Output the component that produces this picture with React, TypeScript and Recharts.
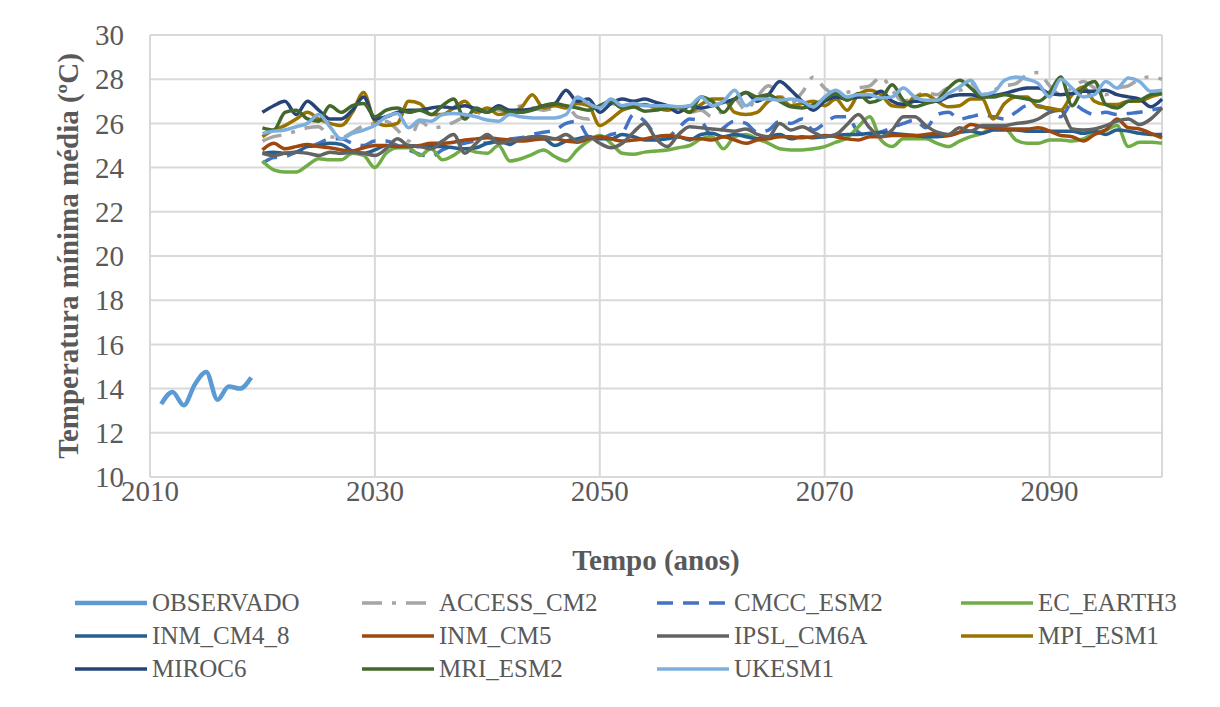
import { CartesianGrid, Line, LineChart, XAxis, YAxis } from 'recharts';

const FONT = '"Liberation Serif", "Times New Roman", serif';

// observed series, 2011-2019
const observedYears = [2011, 2012, 2013, 2014, 2015, 2016, 2017, 2018, 2019];
const observado = [13.3, 13.85, 13.25, 14.2, 14.75, 13.5, 14.1, 14.0, 14.5];

// model projections, one value per year 2020-2100
const modelStart = 2020;

const accessCm2 = [
  25.2, 25.4, 25.5, 25.65, 25.8, 25.85, 25.4, 25.35, 25.6, 25.9, 26.0, 26.1, 25.7, 25.2, 26.1, 25.8,
  25.85, 26.05, 26.3, 26.4, 26.7, 26.6, 26.5, 26.8, 26.7, 26.6, 26.7, 26.8, 26.3, 26.2, 26.7, 26.9,
  26.8, 26.9, 26.7, 26.6, 26.8, 26.7, 26.5, 26.6, 26.3, 26.6, 27.1, 26.6, 27.2, 27.7, 27.3, 26.9,
  27.4, 28.1, 27.6, 27.3, 27.4, 27.6, 27.7, 28.1, 27.5, 27.0, 27.2, 27.4, 27.3, 27.6, 27.5, 27.8,
  27.3, 27.5, 27.7, 27.8, 28.2, 28.3, 27.7, 27.3, 27.6, 27.9, 27.6, 27.3, 27.6, 27.7, 28.0, 28.1, 28.0,
];

const cmccEsm2 = [
  24.2, 24.45, 24.5, 24.7, 24.9, 25.1, 25.3, 25.3, 25.1, 25.0, 25.2, 25.2, 25.0, 24.8, 24.6, 24.5,
  24.8, 25.0, 25.1, 25.2, 25.1, 25.2, 25.3, 25.35, 25.5, 25.6, 25.7, 26.0, 26.1, 25.4, 25.3, 25.5,
  25.6, 26.4, 26.1, 25.5, 25.4, 25.8, 26.2, 26.1, 25.4, 25.8, 26.1, 26.0, 25.6, 25.7, 26.1, 26.0,
  26.2, 25.7, 26.0, 26.3, 26.3, 25.6, 25.4, 25.6, 25.8, 26.0, 26.15, 25.8, 26.4, 26.5, 26.2, 26.3,
  26.4, 26.3, 26.2, 26.5, 26.8, 26.8, 26.6, 26.3, 26.9, 26.6, 26.4, 26.5, 26.4, 26.45, 26.5, 26.6, 26.7,
];

const ecEarth3 = [
  24.3, 23.9, 23.8, 23.8, 24.1, 24.4, 24.35, 24.35, 24.65, 24.55, 24.0, 24.65, 24.9, 24.9, 24.55, 24.85,
  24.35, 24.55, 24.85, 24.7, 24.65, 25.0, 24.3, 24.4, 24.6, 24.8, 24.5, 24.3, 24.8, 25.2, 25.45, 25.1,
  24.65, 24.6, 24.7, 24.75, 24.8, 24.9, 25.0, 25.3, 25.4, 24.85, 25.4, 25.5, 25.3, 25.1, 24.85, 24.8,
  24.8, 24.85, 24.95, 25.15, 25.35, 25.85, 26.3, 25.25, 24.95, 25.3, 25.3, 25.3, 25.1, 24.95, 25.2, 25.4,
  25.55, 25.85, 25.8, 25.25, 25.1, 25.1, 25.25, 25.25, 25.2, 25.3, 25.55, 25.7, 25.9, 24.95, 25.15, 25.15, 25.1,
];

const inmCm48 = [
  24.65, 24.7, 24.65, 24.7, 24.95, 25.0, 25.1, 25.05, 24.75, 24.65, 24.8, 25.0, 24.95, 25.0, 24.95, 24.95,
  24.95, 24.9, 24.85, 24.9, 25.1, 25.2, 25.05, 25.3, 25.3, 25.3, 25.0, 25.2, 25.3, 25.4, 25.3, 25.3,
  25.5, 25.4, 25.25, 25.25, 25.3, 25.4, 25.25, 25.5, 25.55, 25.4, 25.5, 25.4, 25.3, 25.4, 25.5, 25.3,
  25.4, 25.35, 25.4, 25.45, 25.5, 25.5, 25.55, 25.6, 25.55, 25.5, 25.45, 25.4, 25.4, 25.45, 25.6, 25.65,
  25.55, 25.7, 25.7, 25.7, 25.65, 25.65, 25.65, 25.65, 25.65, 25.55, 25.65, 25.5, 25.7, 25.65, 25.55, 25.5, 25.5,
];

const inmCm5 = [
  24.8, 25.1, 24.85, 24.95, 25.05, 24.95, 24.9, 24.8, 24.75, 24.9, 25.0, 25.0, 24.95, 24.95, 25.0, 25.1,
  25.1, 25.15, 25.25, 25.3, 25.35, 25.3, 25.25, 25.2, 25.25, 25.3, 25.3, 25.2, 25.15, 25.3, 25.4, 25.3,
  25.2, 25.25, 25.3, 25.4, 25.45, 25.4, 25.3, 25.3, 25.25, 25.4, 25.25, 25.1, 25.25, 25.3, 25.4, 25.4,
  25.35, 25.4, 25.45, 25.4, 25.3, 25.25, 25.4, 25.4, 25.45, 25.45, 25.45, 25.5, 25.55, 25.45, 25.6, 25.95,
  25.85, 25.8, 25.75, 25.75, 25.75, 25.8, 25.65, 25.45, 25.4, 25.2, 25.5, 25.7, 26.2, 25.8, 25.75, 25.55, 25.35,
];

const ipslCm6a = [
  24.65, 24.55, 24.65, 24.7, 24.65, 24.55, 24.7, 24.65, 24.7, 24.65, 24.55, 24.85, 25.3, 25.0, 24.95, 24.85,
  25.2, 25.5, 24.65, 25.1, 25.5, 25.1, 25.2, 25.3, 25.4, 25.4, 25.3, 25.5, 25.2, 25.4, 25.1, 24.9,
  25.1, 25.6, 26.0, 25.3, 24.95, 25.5, 25.85, 25.8, 25.75, 25.7, 25.65, 25.75, 25.5, 25.4, 26.0, 25.7,
  25.85, 25.6, 25.4, 25.5, 25.95, 26.4, 25.8, 25.4, 25.7, 26.3, 26.3, 25.9, 25.6, 25.5, 25.8, 25.65,
  25.9, 25.9, 25.9, 26.0, 26.05, 26.2, 26.5, 26.6, 25.75, 25.7, 25.75, 25.9, 26.1, 26.2, 25.95, 26.2, 26.7,
];

const mpiEsm1 = [
  25.4, 25.7, 25.9, 26.2, 26.5, 26.2, 26.0, 25.9, 26.5, 27.4, 26.1, 25.9, 26.0, 27.0, 26.9, 26.4,
  26.4, 26.7, 27.0, 26.5, 26.7, 26.4, 26.5, 26.7, 27.3, 26.7, 26.8, 26.7, 26.9, 26.8, 25.9, 26.2,
  26.6, 26.75, 26.85, 26.7, 26.6, 26.7, 26.5, 26.85, 27.1, 27.1, 26.5, 26.4, 26.5, 27.0, 27.2, 26.8,
  26.9, 27.0, 26.8, 27.1, 26.6, 27.3, 27.5, 27.3, 26.8, 26.75, 27.2, 27.3, 27.0, 26.75, 26.8, 27.1,
  27.1, 26.2, 26.9, 27.2, 27.2, 26.75, 26.7, 26.6, 27.3, 27.65, 27.0, 26.85, 26.85, 27.0, 27.0, 27.2, 27.35,
];

const miroc6 = [
  26.5, 26.8, 27.0, 26.4, 27.0, 26.6, 26.2, 26.2, 26.6, 27.2, 26.2, 26.3, 26.5, 26.6, 26.6, 26.7,
  26.75, 26.7, 26.8, 26.65, 26.5, 26.8, 26.6, 26.6, 26.65, 26.8, 26.9, 27.5, 27.0, 27.1, 26.5, 26.9,
  27.1, 27.0, 27.1, 26.95, 26.8, 26.5, 26.8, 26.7, 26.8, 26.95, 27.1, 27.4, 27.0, 27.3, 27.9, 27.5,
  27.0, 26.6, 27.0, 27.2, 27.1, 27.2, 27.2, 27.45, 27.0, 26.85, 27.0, 27.0, 27.0, 27.2, 27.3, 27.3,
  27.2, 27.25, 27.35, 27.5, 27.6, 27.6, 27.35, 27.3, 27.35, 27.45, 27.45, 27.5, 27.3, 27.2, 27.1, 26.75, 27.1,
];

const mriEsm2 = [
  25.8, 25.7, 26.5, 26.6, 26.2, 26.1, 26.8, 26.5, 26.8, 26.9, 26.3, 26.6, 26.7, 26.5, 26.6, 26.4,
  26.8, 27.1, 26.2, 26.7, 26.5, 26.7, 26.5, 26.5, 26.6, 26.8, 26.9, 26.8, 26.7, 26.6, 26.8, 27.0,
  26.7, 26.75, 26.55, 26.6, 26.7, 26.75, 26.5, 27.2, 27.0, 26.5, 27.1, 27.4, 27.2, 27.3, 27.0, 26.75,
  26.7, 26.85, 27.1, 27.35, 27.05, 27.35, 26.95, 27.1, 27.75, 27.05, 26.75, 26.9, 27.05, 27.6, 27.95, 27.6,
  27.2, 27.2, 27.3, 27.2, 27.1, 27.0, 27.4, 28.1, 26.8, 27.6, 27.9, 26.85, 26.7, 27.0, 27.05, 27.3, 27.35,
];

const ukesm1 = [
  25.55, 25.65, 25.7, 25.85, 26.0, 26.4, 25.85, 25.3, 25.55, 25.7, 25.9, 26.3, 26.45, 25.8, 26.15, 26.1,
  26.4, 26.45, 26.4, 26.3, 26.15, 26.1, 26.4, 26.3, 26.25, 26.25, 26.25, 26.4, 27.2, 26.9, 26.7, 27.1,
  26.8, 26.9, 26.8, 26.8, 26.8, 26.75, 26.8, 27.2, 26.8, 27.0, 27.5, 26.8, 27.1, 27.1, 27.05, 27.1,
  27.0, 26.75, 27.2, 27.5, 27.2, 27.3, 27.3, 27.15, 27.2, 27.6, 27.2, 27.05, 27.05, 27.35, 27.65, 27.95,
  27.3, 27.4, 27.95, 28.1, 28.0, 27.8, 27.2, 28.0, 27.6, 27.2, 27.3, 27.9, 27.6, 28.05, 27.9, 27.45, 27.5,
];

const xTicks = [2010, 2030, 2050, 2070, 2090];
const yTicks = [10, 12, 14, 16, 18, 20, 22, 24, 26, 28, 30];

type Series = { key: string; values: number[]; color: string; dash?: string; width: number };

const models: Series[] = [
  { key: 'ACCESS_CM2', values: accessCm2, color: '#A5A5A5', dash: '20 10 4 10', width: 3.5 },
  { key: 'CMCC_ESM2', values: cmccEsm2, color: '#4472C4', dash: '16 10', width: 3.5 },
  { key: 'EC_EARTH3', values: ecEarth3, color: '#70AD47', width: 3.5 },
  { key: 'INM_CM4_8', values: inmCm48, color: '#255E91', width: 3.5 },
  { key: 'INM_CM5', values: inmCm5, color: '#9E480E', width: 3.5 },
  { key: 'IPSL_CM6A', values: ipslCm6a, color: '#636363', width: 3.5 },
  { key: 'MPI_ESM1', values: mpiEsm1, color: '#997300', width: 3.5 },
  { key: 'MIROC6', values: miroc6, color: '#264478', width: 3.5 },
  { key: 'MRI_ESM2', values: mriEsm2, color: '#43682B', width: 3.5 },
  { key: 'UKESM1', values: ukesm1, color: '#7CAFDD', width: 3.5 },
];

const allSeries: Series[] = [
  { key: 'OBSERVADO', values: observado, color: '#5B9BD5', width: 4.5 },
  ...models,
];

const rows: Record<string, number>[] = [];
observedYears.forEach((year, i) => rows.push({ year, OBSERVADO: observado[i] }));
accessCm2.forEach((_, i) => {
  const row: Record<string, number> = { year: modelStart + i };
  models.forEach((m) => {
    row[m.key] = m.values[i];
  });
  rows.push(row);
});

const tickStyle = { fill: '#595959', fontSize: 29, fontFamily: FONT };

function LegendSwatch({ s }: { s: Series }) {
  return (
    <svg width={74} height={10} style={{ display: 'block', flex: 'none' }}>
      <line x1={1} y1={5} x2={73} y2={5} stroke={s.color} strokeWidth={s.width} strokeDasharray={s.dash} />
    </svg>
  );
}

export default function App() {
  return (
    <div
      style={{
        position: 'relative',
        width: 1220,
        height: 707,
        margin: -8,
        overflow: 'hidden',
        background: '#fff',
        fontFamily: FONT,
      }}
    >
      <div
        style={{
          position: 'absolute',
          left: 7,
          top: 5,
          width: 1211,
          height: 695,
          border: '1px solid #D9D9D9',
          boxSizing: 'border-box',
        }}
      />
      <div style={{ position: 'absolute', left: 0, top: 0 }}>
        <LineChart width={1220} height={520} data={rows} margin={{ top: 35, right: 58, bottom: 0, left: 90 }}>
          <CartesianGrid stroke="#D9D9D9" strokeWidth={2} />
          <XAxis
            dataKey="year"
            type="number"
            domain={[2010, 2100]}
            ticks={xTicks}
            height={43}
            tickLine={false}
            axisLine={false}
            tickSize={0}
            tickMargin={3}
            tick={tickStyle}
          />
          <YAxis
            type="number"
            domain={[10, 30]}
            ticks={yTicks}
            width={60}
            tickLine={false}
            axisLine={false}
            tickSize={0}
            tickMargin={26}
            tick={tickStyle}
          />
          {allSeries.map((s) => (
            <Line
              key={s.key}
              dataKey={s.key}
              type="monotone"
              stroke={s.color}
              strokeWidth={s.width}
              strokeDasharray={s.dash}
              dot={false}
              activeDot={false}
              isAnimationActive={false}
            />
          ))}
        </LineChart>
      </div>
      <div
        style={{
          position: 'absolute',
          left: 68,
          top: 256,
          transform: 'translate(-50%, -50%) rotate(-90deg)',
          whiteSpace: 'nowrap',
          fontSize: 29,
          fontWeight: 'bold',
          color: '#595959',
        }}
      >
        Temperatura mínima média (ºC)
      </div>
      <div
        style={{
          position: 'absolute',
          left: 656,
          top: 560,
          transform: 'translate(-50%, -50%)',
          whiteSpace: 'nowrap',
          fontSize: 29,
          fontWeight: 'bold',
          color: '#595959',
        }}
      >
        Tempo (anos)
      </div>
      <div
        style={{
          position: 'absolute',
          left: 74,
          top: 586,
          display: 'grid',
          gridTemplateColumns: '287px 295px 304px 270px',
        }}
      >
        {allSeries.map((s) => (
          <div key={s.key} style={{ display: 'flex', alignItems: 'center', height: 33 }}>
            <LegendSwatch s={s} />
            <span style={{ marginLeft: 4, fontSize: 25, color: '#595959', whiteSpace: 'nowrap' }}>{s.key}</span>
          </div>
        ))}
      </div>
    </div>
  );
}
